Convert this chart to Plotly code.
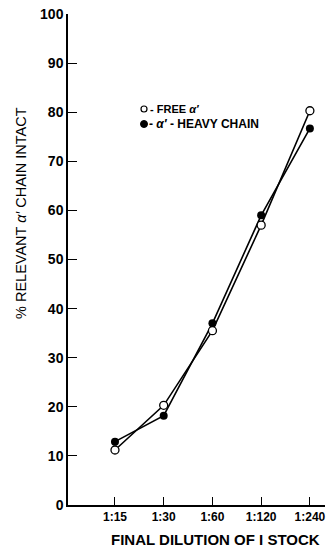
import plotly.graph_objects as go

categories = ["1:15", "1:30", "1:60", "1:120", "1:240"]
free_alpha = [11.2, 20.3, 35.5, 57, 80.3]
heavy_chain = [12.9, 18.2, 37, 59, 76.7]
y_ticks = [0, 10, 20, 30, 40, 50, 60, 70, 80, 90, 100]

xi = list(range(len(categories)))
FAM = "Liberation Sans, Arial, sans-serif"
font = dict(family=FAM, color="black")

fig = go.Figure()
fig.add_trace(go.Scatter(x=xi, y=heavy_chain, mode="lines+markers",
                         line=dict(color="black", width=1.6),
                         marker=dict(symbol="circle", size=8, color="black"),
                         showlegend=False))
fig.add_trace(go.Scatter(x=xi, y=free_alpha, mode="lines+markers",
                         line=dict(color="black", width=1.6),
                         marker=dict(symbol="circle", size=8, color="white",
                                     line=dict(color="black", width=1.3)),
                         showlegend=False))

fig.update_layout(
    width=327, height=548,
    margin=dict(l=68, r=2, t=14, b=43),
    paper_bgcolor="white", plot_bgcolor="white",
    font=font,
    xaxis=dict(range=[-0.964, 4.31], tickmode="array", tickvals=xi,
               ticktext=[f"<b>{c}</b>" for c in categories],
               showgrid=False, zeroline=False, showline=True, linecolor="black", linewidth=1.5,
               ticks="inside", ticklen=8, tickwidth=1.3, tickcolor="black",
               tickfont=dict(size=12, family=FAM, color="black")),
    yaxis=dict(range=[0, 100], tickmode="array", tickvals=y_ticks,
               ticktext=[f"<b>{t}</b>" for t in y_ticks],
               showgrid=False, zeroline=False, showline=True, linecolor="black", linewidth=1.5,
               ticks="inside", ticklen=9, tickwidth=1.3, tickcolor="black",
               tickfont=dict(size=14, family=FAM, color="black")),
)

def px(x):
    return (x - 68) / 257

def py(y):
    return 1 - (y - 14) / 491

fig.add_annotation(xref="paper", yref="paper", x=px(21), y=py(213), textangle=-90,
                   text="% RELEVANT <i>α′</i> CHAIN INTACT", showarrow=False,
                   xanchor="center", yanchor="middle", font=dict(size=14.5, color="black"))
fig.add_annotation(xref="paper", yref="paper", x=px(215), y=py(539),
                   text="<b>FINAL DILUTION OF I STOCK</b>", showarrow=False,
                   xanchor="center", yanchor="middle", font=dict(size=15))

fig.add_shape(type="circle", xref="paper", yref="paper", xsizemode="pixel", ysizemode="pixel",
              xanchor=px(144), yanchor=py(109),
              x0=-3, x1=3, y0=-3, y1=3, line=dict(color="black", width=1.2), fillcolor="white")
fig.add_shape(type="circle", xref="paper", yref="paper", xsizemode="pixel", ysizemode="pixel",
              xanchor=px(144), yanchor=py(124),
              x0=-3.5, x1=3.5, y0=-3.5, y1=3.5, line=dict(color="black", width=1), fillcolor="black")
fig.add_annotation(xref="paper", yref="paper", x=px(148), y=py(109),
                   text="<b>- FREE <i>α′</i></b>", showarrow=False, xanchor="left", yanchor="middle",
                   font=dict(size=11))
fig.add_annotation(xref="paper", yref="paper", x=px(147), y=py(124),
                   text="<b>- <i>α′</i> - HEAVY CHAIN</b>", showarrow=False, xanchor="left", yanchor="middle",
                   font=dict(size=12))

fig.write_html("out.html", config={"displayModeBar": False},
               post_script="document.body.style.margin='0';document.body.style.overflow='hidden';")
